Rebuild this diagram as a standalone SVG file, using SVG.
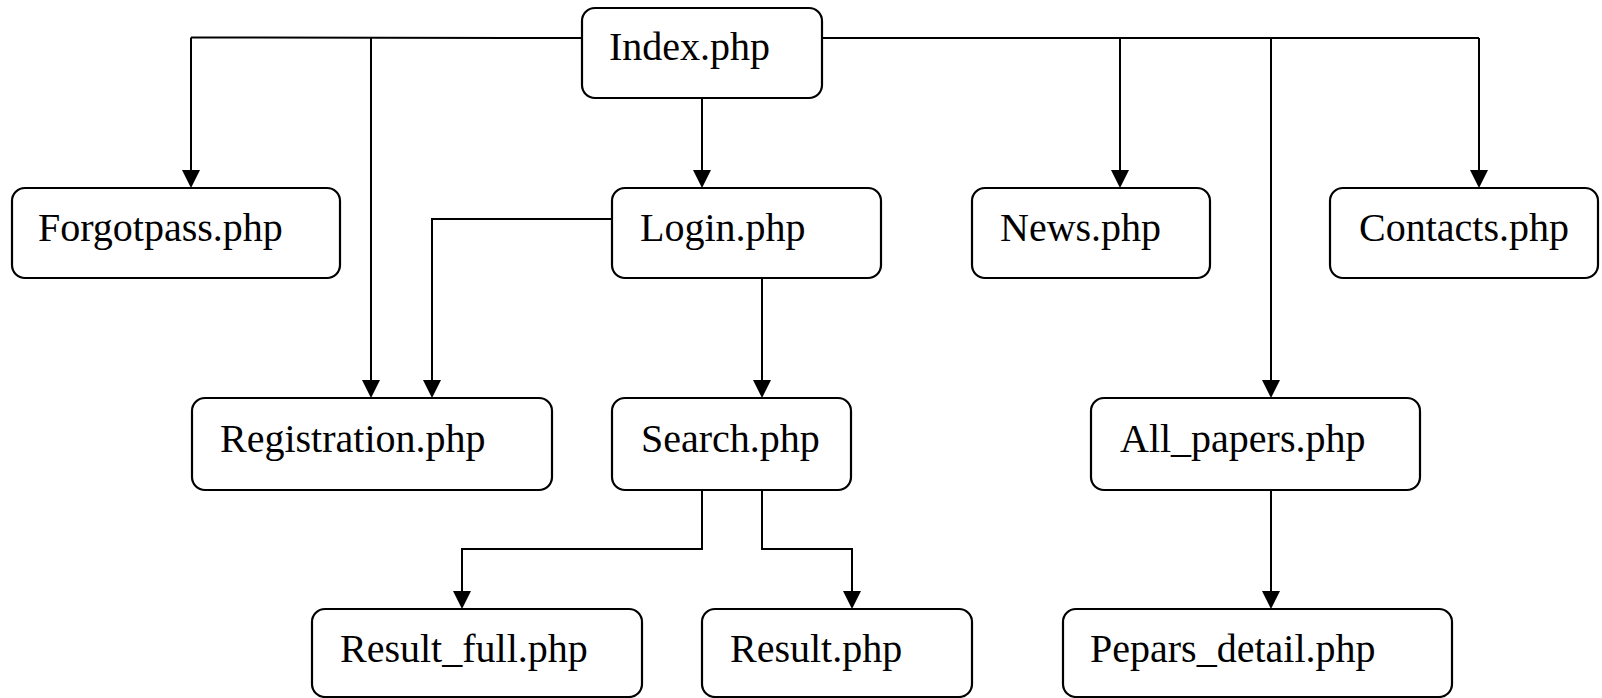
<svg xmlns="http://www.w3.org/2000/svg" width="1602" height="698" viewBox="0 0 1602 698">
  <style>
    .box { fill: #ffffff; stroke: #000000; stroke-width: 2.2; }
    .lbl { font-family: "Liberation Serif", "Times New Roman", serif; font-size: 40px; fill: #000000; }
    .edge { fill: none; stroke: #000000; stroke-width: 2; }
    .arr { marker-end: url(#arrow); }
  </style>
  <defs>
    <marker id="arrow" markerUnits="userSpaceOnUse" viewBox="0 0 18 18" markerWidth="18" markerHeight="18" refX="16" refY="9" orient="auto">
      <path d="M0,0 L18,9 L0,18 z" fill="#000000"/>
    </marker>
  </defs>
  <rect width="1602" height="698" fill="#ffffff"/>

  <g id="connectors">
    <path class="edge" d="M582,38 L191,37.5"/>
    <path class="edge arr" d="M191,37.5 L191,186"/>
    <path class="edge arr" d="M371,38 L371,396"/>
    <path class="edge" d="M822,38 L1479,38"/>
    <path class="edge arr" d="M1120,38 L1120,186"/>
    <path class="edge arr" d="M1271,38 L1271,396"/>
    <path class="edge arr" d="M1479,38 L1479,186"/>
    <path class="edge arr" d="M702,98 L702,186"/>
    <path class="edge arr" d="M612,219 L432,219 L432,396"/>
    <path class="edge arr" d="M762,278 L762,396"/>
    <path class="edge arr" d="M702,490 L702,549 L462,549 L462,607"/>
    <path class="edge arr" d="M762,490 L762,549 L852,549 L852,607"/>
    <path class="edge arr" d="M1271,490 L1271,607"/>
  </g>

  <g id="index">
    <rect class="box" x="582" y="8" width="240" height="90" rx="13"/>
    <text class="lbl" x="609" y="60">Index.php</text>
  </g>
  <g id="forgotpass">
    <rect class="box" x="12" y="188" width="328" height="90" rx="13"/>
    <text class="lbl" x="38" y="241">Forgotpass.php</text>
  </g>
  <g id="login">
    <rect class="box" x="612" y="188" width="269" height="90" rx="13"/>
    <text class="lbl" x="640" y="241">Login.php</text>
  </g>
  <g id="news">
    <rect class="box" x="972" y="188" width="238" height="90" rx="13"/>
    <text class="lbl" x="1000" y="241">News.php</text>
  </g>
  <g id="contacts">
    <rect class="box" x="1330" y="188" width="268" height="90" rx="13"/>
    <text class="lbl" x="1359" y="241">Contacts.php</text>
  </g>
  <g id="registration">
    <rect class="box" x="192" y="398" width="360" height="92" rx="13"/>
    <text class="lbl" x="220" y="452">Registration.php</text>
  </g>
  <g id="search">
    <rect class="box" x="612" y="398" width="239" height="92" rx="13"/>
    <text class="lbl" x="641" y="452">Search.php</text>
  </g>
  <g id="all_papers">
    <rect class="box" x="1091" y="398" width="329" height="92" rx="13"/>
    <text class="lbl" x="1120" y="452">All_papers.php</text>
  </g>
  <g id="result_full">
    <rect class="box" x="312" y="609" width="330" height="88" rx="13"/>
    <text class="lbl" x="340" y="662">Result_full.php</text>
  </g>
  <g id="result">
    <rect class="box" x="702" y="609" width="270" height="88" rx="13"/>
    <text class="lbl" x="730" y="662">Result.php</text>
  </g>
  <g id="pepars_detail">
    <rect class="box" x="1063" y="609" width="389" height="88" rx="13"/>
    <text class="lbl" x="1090" y="662">Pepars_detail.php</text>
  </g>
</svg>
